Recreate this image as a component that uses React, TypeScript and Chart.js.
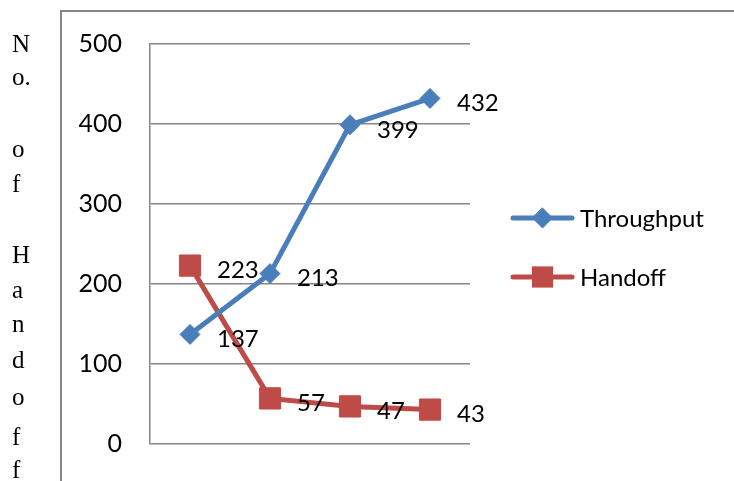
import React, { useEffect, useRef } from 'react';
import { Chart, registerables } from 'chart.js';

Chart.register(...registerables);

const categories = ['1', '2', '3', '4'];
const throughput = [137, 213, 399, 432];
const handoff = [223, 57, 47, 43];
const yMin = 0;
const yMax = 500;
const yStep = 100;
const yTitleLines = ['N', 'o.', '', 'o', 'f', '', 'H', 'a', 'n', 'd', 'o', 'f', 'f'];
const seriesNames = ['Throughput', 'Handoff'];

const BLUE = '#4A7EBB';
const RED = '#BE4B48';
const GRID = '#868686';
const LABEL_FONT = '24px Lato, "Open Sans", sans-serif';

const framePlugin = {
  id: 'frame',
  beforeDraw(chart: any) {
    const ctx = chart.ctx;
    ctx.save();
    ctx.strokeStyle = '#878787';
    ctx.lineWidth = 2;
    ctx.beginPath();
    ctx.moveTo(61, chart.height);
    ctx.lineTo(61, 11);
    ctx.lineTo(chart.width, 11);
    ctx.stroke();
    ctx.restore();
  },
};

const titlePlugin = {
  id: 'stackedTitle',
  afterDraw(chart: any) {
    const ctx = chart.ctx;
    const baselines = [52, 85, 0, 157, 192, 0, 263, 298, 332, 368, 405, 445, 478];
    ctx.save();
    ctx.fillStyle = '#000';
    ctx.font = '25px "Liberation Serif", "DejaVu Serif", serif';
    ctx.textAlign = 'left';
    ctx.textBaseline = 'alphabetic';
    yTitleLines.forEach((t, i) => {
      if (t) ctx.fillText(t, 12, baselines[i]);
    });
    ctx.restore();
  },
};

const valueLabelPlugin = {
  id: 'valueLabels',
  afterDatasetsDraw(chart: any) {
    const ctx = chart.ctx;
    ctx.save();
    ctx.fillStyle = '#000';
    ctx.font = LABEL_FONT;
    ctx.textAlign = 'left';
    ctx.textBaseline = 'middle';
    chart.data.datasets.forEach((ds: any, di: number) => {
      const meta = chart.getDatasetMeta(di);
      meta.data.forEach((pt: any, i: number) => {
        ctx.fillText(String(ds.data[i]), pt.x + 27, pt.y + 5);
      });
    });
    ctx.restore();
  },
};

const legendPlugin = {
  id: 'customLegend',
  afterDraw(chart: any) {
    const ctx = chart.ctx;
    const x0 = 513;
    const x1 = 572;
    const ys = [218, 277];
    chart.data.datasets.forEach((ds: any, di: number) => {
      const y = ys[di];
      ctx.save();
      ctx.strokeStyle = ds.borderColor;
      ctx.lineWidth = ds.borderWidth;
      ctx.lineCap = 'round';
      ctx.beginPath();
      ctx.moveTo(x0, y);
      ctx.lineTo(x1, y);
      ctx.stroke();
      ctx.fillStyle = ds.pointBackgroundColor;
      ctx.strokeStyle = ds.pointBorderColor;
      ctx.lineWidth = 1;
      const cx = (x0 + x1) / 2;
      if (ds.pointStyle === 'rectRot') {
        const r = ds.pointRadius;
        ctx.beginPath();
        ctx.moveTo(cx, y - r);
        ctx.lineTo(cx + r, y);
        ctx.lineTo(cx, y + r);
        ctx.lineTo(cx - r, y);
        ctx.closePath();
        ctx.fill();
        ctx.stroke();
      } else {
        const h = ds.pointRadius * Math.SQRT1_2;
        ctx.fillRect(cx - h, y - h, 2 * h, 2 * h);
      }
      ctx.fillStyle = '#000';
      ctx.font = LABEL_FONT;
      ctx.textAlign = 'left';
      ctx.textBaseline = 'middle';
      ctx.fillText(ds.label, 580, y + 1);
      ctx.restore();
    });
  },
};

export default function App() {
  const ref = useRef<HTMLCanvasElement>(null);

  useEffect(() => {
    document.body.style.margin = '0';
    const canvas = ref.current;
    if (!canvas) return;
    const chart = new Chart(canvas, {
      type: 'line',
      data: {
        labels: categories,
        datasets: [
          {
            label: seriesNames[0],
            data: throughput,
            borderColor: BLUE,
            backgroundColor: BLUE,
            borderWidth: 5,
            pointStyle: 'rectRot',
            pointRadius: 10,
            pointBackgroundColor: BLUE,
            pointBorderColor: BLUE,
            pointBorderWidth: 1,
            tension: 0,
          },
          {
            label: seriesNames[1],
            data: handoff,
            borderColor: RED,
            backgroundColor: RED,
            borderWidth: 5,
            pointStyle: 'rect',
            pointRadius: 15,
            pointBackgroundColor: RED,
            pointBorderColor: RED,
            pointBorderWidth: 1,
            tension: 0,
          },
        ],
      },
      options: {
        animation: false,
        responsive: false,
        layout: { padding: { left: 0, top: 44, right: 264, bottom: 37 } },
        plugins: {
          legend: { display: false },
          tooltip: { enabled: false },
          title: { display: false },
        },
        scales: {
          x: {
            display: false,
            offset: true,
          },
          y: {
            min: yMin,
            max: yMax,
            grid: { color: GRID, lineWidth: 1.5, drawTicks: false },
            border: { display: true, color: GRID, width: 1.5 },
            ticks: {
              stepSize: yStep,
              padding: 28,
              color: '#000',
              font: { family: 'Lato, "Open Sans", sans-serif', size: 25 },
            },
            afterFit: (scale: any) => {
              scale.width = 150;
              scale.paddingTop = 0;
              scale.paddingBottom = 0;
            },
          },
        },
      },
      plugins: [framePlugin, valueLabelPlugin, legendPlugin, titlePlugin],
    } as any);
    return () => chart.destroy();
  }, []);

  return <canvas ref={ref} width={734} height={481} style={{ display: 'block' }} />;
}
